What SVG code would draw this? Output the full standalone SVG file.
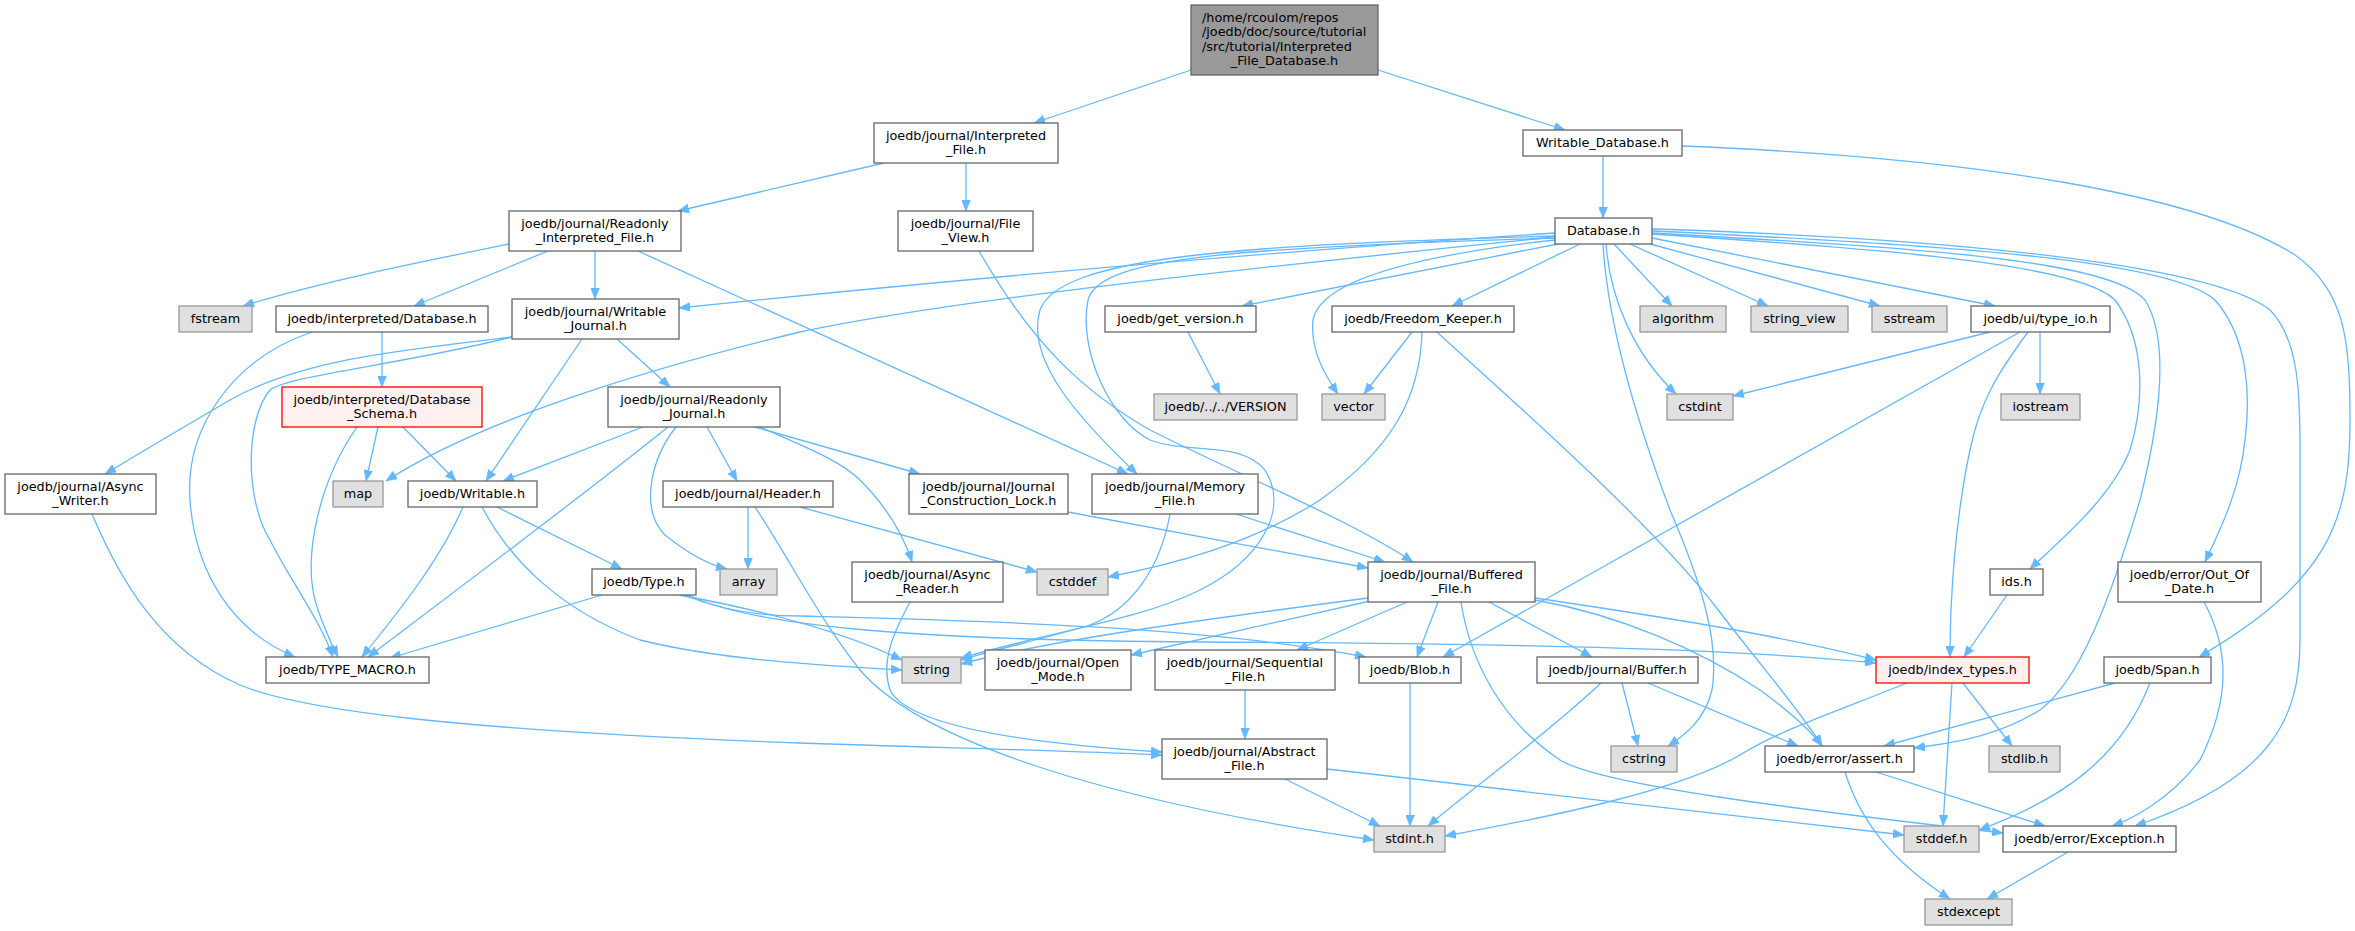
<svg xmlns="http://www.w3.org/2000/svg" width="2355" height="931" viewBox="0 0 2355 931">
<style>
rect{stroke-width:1.3}
.n rect{fill:#ffffff;stroke:#666666}
.g rect{fill:#e0e0e0;stroke:#999999}
.r rect{fill:#fff0f0;stroke:#ff0000}
.t rect{fill:#999999;stroke:#666666}
text{font-family:"DejaVu Sans",sans-serif;font-size:12.8px;text-anchor:middle;fill:#000000}
.l{text-anchor:start}
#edges path{fill:none;stroke:#63b8ff;stroke-width:1.3;marker-end:url(#ah)}
</style>
<defs>
<marker id="ah" markerUnits="userSpaceOnUse" markerWidth="11" markerHeight="9" refX="11" refY="4.5" orient="auto" viewBox="0 0 11 9"><path d="M0,0 L11,4.5 L0,9 z" fill="#63b8ff" stroke="#63b8ff" stroke-width="0.5"/></marker>
</defs>
<rect width="2355" height="931" fill="#ffffff"/>
<g id="edges">
<path d="M1191,70 L1034,123"/>
<path d="M1378,70 L1565,130"/>
<path d="M884,163 L678,211"/>
<path d="M966,163 L966,211"/>
<path d="M1603,156 L1603,218"/>
<path d="M1682,146 C1980,158 2200,195 2295,255 C2345,290 2350,340 2350,420 C2350,520 2330,580 2199,657"/>
<path d="M509,244 C420,262 320,282 243,306"/>
<path d="M548,251 L414,306"/>
<path d="M595,251 L595,299"/>
<path d="M638,251 L1128,474"/>
<path d="M979,251 C1030,340 1080,390 1150,430 C1250,480 1350,520 1413,562"/>
<path d="M1555,233 C1300,250 1000,275 679,308"/>
<path d="M1555,237 C1250,268 950,300 800,332 C650,368 480,420 386,481"/>
<path d="M1558,244 L1242,306"/>
<path d="M1580,244 L1452,306"/>
<path d="M1555,240 C1420,255 1320,280 1313,320 C1310,350 1325,375 1338,394"/>
<path d="M1555,236 C1250,245 1060,255 1040,310 C1025,360 1080,420 1137,474"/>
<path d="M1555,238 C1250,248 1100,255 1088,300 C1078,350 1110,420 1150,440 C1190,455 1240,440 1265,470 C1290,510 1260,560 1200,590 C1140,620 1050,632 961,658"/>
<path d="M1614,244 L1672,306"/>
<path d="M1630,244 L1768,306"/>
<path d="M1650,244 L1880,306"/>
<path d="M1652,238 L1995,306"/>
<path d="M1606,244 C1610,300 1635,355 1676,394"/>
<path d="M1603,244 C1608,330 1640,430 1670,510 C1700,580 1720,640 1712,690 C1705,720 1685,735 1668,746"/>
<path d="M1652,234 C1900,250 2080,265 2115,300 C2145,340 2145,400 2130,450 C2110,500 2060,540 2030,569"/>
<path d="M1652,233 C1920,248 2110,260 2145,300 C2170,340 2160,420 2140,500 C2110,600 2080,680 2040,710 C2000,735 1960,742 1914,748"/>
<path d="M1652,231 C1950,245 2170,260 2215,300 C2250,340 2250,400 2245,440 C2240,490 2220,530 2205,562"/>
<path d="M1652,229 C2000,240 2220,270 2270,310 C2300,340 2300,400 2300,450 L2300,640 C2300,720 2270,780 2135,826"/>
<path d="M1990,332 L1733,396"/>
<path d="M2040,332 L2040,394"/>
<path d="M2020,332 L1443,657"/>
<path d="M2028,332 C2000,370 1980,400 1970,450 C1955,520 1950,600 1950,657"/>
<path d="M1188,332 L1220,394"/>
<path d="M1412,332 L1364,394"/>
<path d="M1422,332 C1420,400 1390,450 1320,500 C1250,545 1170,565 1108,577"/>
<path d="M1437,332 C1500,390 1650,520 1719,611 C1760,665 1800,710 1822,746"/>
<path d="M382,332 L382,387"/>
<path d="M312,332 C230,360 185,430 190,500 C195,570 230,630 295,657"/>
<path d="M512,337 C400,350 300,360 230,400 C170,435 120,465 105,474"/>
<path d="M512,337 C400,365 290,375 270,390 C245,420 245,500 270,540 C290,580 320,620 333,657"/>
<path d="M582,339 L486,481"/>
<path d="M617,339 L670,387"/>
<path d="M378,427 L366,481"/>
<path d="M403,427 L456,481"/>
<path d="M357,427 C320,480 300,560 318,610 C325,630 332,645 338,657"/>
<path d="M643,427 L503,481"/>
<path d="M668,427 C590,490 470,580 368,657"/>
<path d="M676,427 C650,460 640,510 665,535 C690,555 710,565 727,569"/>
<path d="M707,427 L737,481"/>
<path d="M755,427 L920,474"/>
<path d="M760,427 C800,445 840,460 860,480 C890,510 905,540 912,562"/>
<path d="M92,514 C120,580 160,650 240,685 C300,710 450,730 800,743 C950,748 1050,750 1162,755"/>
<path d="M910,602 C895,630 880,660 890,690 C910,730 1050,745 1162,752"/>
<path d="M748,507 L748,569"/>
<path d="M800,507 L1037,572"/>
<path d="M755,507 C790,560 820,620 860,670 C920,740 1100,800 1374,840"/>
<path d="M463,507 C440,560 400,610 362,657"/>
<path d="M482,507 C510,560 560,610 640,640 C720,660 820,665 902,670"/>
<path d="M497,507 L622,569"/>
<path d="M602,595 L390,658"/>
<path d="M679,595 C760,610 840,630 902,660"/>
<path d="M684,595 C720,610 760,616 800,616 C950,620 1200,625 1366,657"/>
<path d="M688,595 C750,625 900,640 1200,642 C1500,643 1750,650 1876,663"/>
<path d="M1068,512 L1368,568"/>
<path d="M1236,514 L1385,562"/>
<path d="M1170,514 C1160,570 1130,610 1090,625 C1040,640 1000,648 961,660"/>
<path d="M1368,598 C1200,620 1050,640 961,664"/>
<path d="M1370,601 L1131,655"/>
<path d="M1407,602 L1297,650"/>
<path d="M1438,602 L1417,657"/>
<path d="M1461,602 C1470,660 1500,720 1560,760 C1600,785 1800,810 2003,833"/>
<path d="M1489,602 L1592,657"/>
<path d="M1535,598 C1650,615 1780,635 1876,660"/>
<path d="M1535,600 C1620,615 1700,650 1760,690 C1790,712 1810,730 1822,746"/>
<path d="M1245,690 L1245,739"/>
<path d="M1410,683 L1410,826"/>
<path d="M1622,683 L1638,746"/>
<path d="M1648,683 L1798,746"/>
<path d="M1601,683 C1540,740 1470,790 1428,826"/>
<path d="M1952,683 L1943,826"/>
<path d="M1963,683 L2012,746"/>
<path d="M1907,683 C1840,710 1780,730 1740,755 C1680,790 1560,815 1445,836"/>
<path d="M2007,595 L1964,657"/>
<path d="M2115,683 L1884,746"/>
<path d="M2150,683 C2120,760 2060,800 1979,830"/>
<path d="M2204,602 C2230,650 2230,700 2200,760 C2170,800 2130,820 2112,826"/>
<path d="M1845,772 C1860,820 1890,860 1950,899"/>
<path d="M1876,772 L2045,826"/>
<path d="M2068,852 L1987,899"/>
<path d="M1285,779 L1380,826"/>
<path d="M1327,769 L1904,835"/>
</g>
<g id="n_top" class="t"><rect x="1191" y="5" width="187" height="70"/><text class="l" x="1202" y="21.7">/home/rcoulom/repos</text><text class="l" x="1202" y="36.2">/joedb/doc/source/tutorial</text><text class="l" x="1202" y="50.7">/src/tutorial/Interpreted</text><text x="1284.5" y="65.2">_File_Database.h</text></g>
<g id="n_interpreted_file" class="n"><rect x="874" y="123" width="184" height="40"/><text x="966" y="139.5">joedb/journal/Interpreted</text><text x="966" y="153.8">_File.h</text></g>
<g id="n_writable_database" class="n"><rect x="1523" y="130" width="159" height="26"/><text x="1602.5" y="147.3">Writable_Database.h</text></g>
<g id="n_readonly_interpreted_file" class="n"><rect x="509" y="211" width="172" height="40"/><text x="595" y="227.5">joedb/journal/Readonly</text><text x="595" y="241.8">_Interpreted_File.h</text></g>
<g id="n_file_view" class="n"><rect x="898" y="211" width="135" height="40"/><text x="965.5" y="227.5">joedb/journal/File</text><text x="965.5" y="241.8">_View.h</text></g>
<g id="n_database" class="n"><rect x="1555" y="218" width="97" height="26"/><text x="1603.5" y="235.3">Database.h</text></g>
<g id="n_fstream" class="g"><rect x="179" y="306" width="73" height="26"/><text x="215.5" y="323.3">fstream</text></g>
<g id="n_interp_database" class="n"><rect x="276" y="306" width="212" height="26"/><text x="382" y="323.3">joedb/interpreted/Database.h</text></g>
<g id="n_writable_journal" class="n"><rect x="512" y="299" width="167" height="40"/><text x="595.5" y="315.5">joedb/journal/Writable</text><text x="595.5" y="329.8">_Journal.h</text></g>
<g id="n_get_version" class="n"><rect x="1105" y="306" width="151" height="26"/><text x="1180.5" y="323.3">joedb/get_version.h</text></g>
<g id="n_freedom_keeper" class="n"><rect x="1332" y="306" width="182" height="26"/><text x="1423" y="323.3">joedb/Freedom_Keeper.h</text></g>
<g id="n_algorithm" class="g"><rect x="1640" y="306" width="86" height="26"/><text x="1683" y="323.3">algorithm</text></g>
<g id="n_string_view" class="g"><rect x="1751" y="306" width="97" height="26"/><text x="1799.5" y="323.3">string_view</text></g>
<g id="n_sstream" class="g"><rect x="1872" y="306" width="75" height="26"/><text x="1909.5" y="323.3">sstream</text></g>
<g id="n_type_io" class="n"><rect x="1971" y="306" width="139" height="26"/><text x="2040.5" y="323.3">joedb/ui/type_io.h</text></g>
<g id="n_database_schema" class="r"><rect x="282" y="387" width="200" height="40"/><text x="382" y="403.5">joedb/interpreted/Database</text><text x="382" y="417.8">_Schema.h</text></g>
<g id="n_readonly_journal" class="n"><rect x="608" y="387" width="172" height="40"/><text x="694" y="403.5">joedb/journal/Readonly</text><text x="694" y="417.8">_Journal.h</text></g>
<g id="n_version" class="g"><rect x="1154" y="394" width="143" height="26"/><text x="1225.5" y="411.3">joedb/../../VERSION</text></g>
<g id="n_vector" class="g"><rect x="1322" y="394" width="63" height="26"/><text x="1353.5" y="411.3">vector</text></g>
<g id="n_cstdint" class="g"><rect x="1667" y="394" width="66" height="26"/><text x="1700" y="411.3">cstdint</text></g>
<g id="n_iostream" class="g"><rect x="2001" y="394" width="79" height="26"/><text x="2040.5" y="411.3">iostream</text></g>
<g id="n_async_writer" class="n"><rect x="5" y="474" width="151" height="40"/><text x="80.5" y="490.5">joedb/journal/Async</text><text x="80.5" y="504.8">_Writer.h</text></g>
<g id="n_map" class="g"><rect x="333" y="481" width="50" height="26"/><text x="358" y="498.3">map</text></g>
<g id="n_writable" class="n"><rect x="408" y="481" width="129" height="26"/><text x="472.5" y="498.3">joedb/Writable.h</text></g>
<g id="n_header" class="n"><rect x="663" y="481" width="170" height="26"/><text x="748" y="498.3">joedb/journal/Header.h</text></g>
<g id="n_journal_construction_lock" class="n"><rect x="909" y="474" width="159" height="40"/><text x="988.5" y="490.5">joedb/journal/Journal</text><text x="988.5" y="504.8">_Construction_Lock.h</text></g>
<g id="n_memory_file" class="n"><rect x="1092" y="474" width="166" height="40"/><text x="1175" y="490.5">joedb/journal/Memory</text><text x="1175" y="504.8">_File.h</text></g>
<g id="n_type" class="n"><rect x="592" y="569" width="104" height="26"/><text x="644" y="586.3">joedb/Type.h</text></g>
<g id="n_array" class="g"><rect x="720" y="569" width="57" height="26"/><text x="748.5" y="586.3">array</text></g>
<g id="n_async_reader" class="n"><rect x="852" y="562" width="151" height="40"/><text x="927.5" y="578.5">joedb/journal/Async</text><text x="927.5" y="592.8">_Reader.h</text></g>
<g id="n_cstddef" class="g"><rect x="1037" y="569" width="71" height="26"/><text x="1072.5" y="586.3">cstddef</text></g>
<g id="n_buffered_file" class="n"><rect x="1368" y="562" width="167" height="40"/><text x="1451.5" y="578.5">joedb/journal/Buffered</text><text x="1451.5" y="592.8">_File.h</text></g>
<g id="n_ids" class="n"><rect x="1990" y="569" width="53" height="26"/><text x="2016.5" y="586.3">ids.h</text></g>
<g id="n_out_of_date" class="n"><rect x="2118" y="562" width="143" height="40"/><text x="2189.5" y="578.5">joedb/error/Out_Of</text><text x="2189.5" y="592.8">_Date.h</text></g>
<g id="n_type_macro" class="n"><rect x="266" y="657" width="163" height="26"/><text x="347.5" y="674.3">joedb/TYPE_MACRO.h</text></g>
<g id="n_string" class="g"><rect x="902" y="657" width="59" height="26"/><text x="931.5" y="674.3">string</text></g>
<g id="n_open_mode" class="n"><rect x="985" y="650" width="146" height="40"/><text x="1058" y="666.5">joedb/journal/Open</text><text x="1058" y="680.8">_Mode.h</text></g>
<g id="n_sequential_file" class="n"><rect x="1155" y="650" width="180" height="40"/><text x="1245" y="666.5">joedb/journal/Sequential</text><text x="1245" y="680.8">_File.h</text></g>
<g id="n_blob" class="n"><rect x="1359" y="657" width="102" height="26"/><text x="1410" y="674.3">joedb/Blob.h</text></g>
<g id="n_buffer" class="n"><rect x="1537" y="657" width="161" height="26"/><text x="1617.5" y="674.3">joedb/journal/Buffer.h</text></g>
<g id="n_index_types" class="r"><rect x="1876" y="657" width="153" height="26"/><text x="1952.5" y="674.3">joedb/index_types.h</text></g>
<g id="n_span" class="n"><rect x="2104" y="657" width="107" height="26"/><text x="2157.5" y="674.3">joedb/Span.h</text></g>
<g id="n_abstract_file" class="n"><rect x="1162" y="739" width="165" height="40"/><text x="1244.5" y="755.5">joedb/journal/Abstract</text><text x="1244.5" y="769.8">_File.h</text></g>
<g id="n_cstring" class="g"><rect x="1611" y="746" width="66" height="26"/><text x="1644" y="763.3">cstring</text></g>
<g id="n_assert" class="n"><rect x="1765" y="746" width="149" height="26"/><text x="1839.5" y="763.3">joedb/error/assert.h</text></g>
<g id="n_stdlib" class="g"><rect x="1989" y="746" width="71" height="26"/><text x="2024.5" y="763.3">stdlib.h</text></g>
<g id="n_stdint" class="g"><rect x="1374" y="826" width="71" height="26"/><text x="1409.5" y="843.3">stdint.h</text></g>
<g id="n_stddef" class="g"><rect x="1904" y="826" width="75" height="26"/><text x="1941.5" y="843.3">stddef.h</text></g>
<g id="n_exception" class="n"><rect x="2003" y="826" width="173" height="26"/><text x="2089.5" y="843.3">joedb/error/Exception.h</text></g>
<g id="n_stdexcept" class="g"><rect x="1925" y="899" width="87" height="26"/><text x="1968.5" y="916.3">stdexcept</text></g>
</svg>
